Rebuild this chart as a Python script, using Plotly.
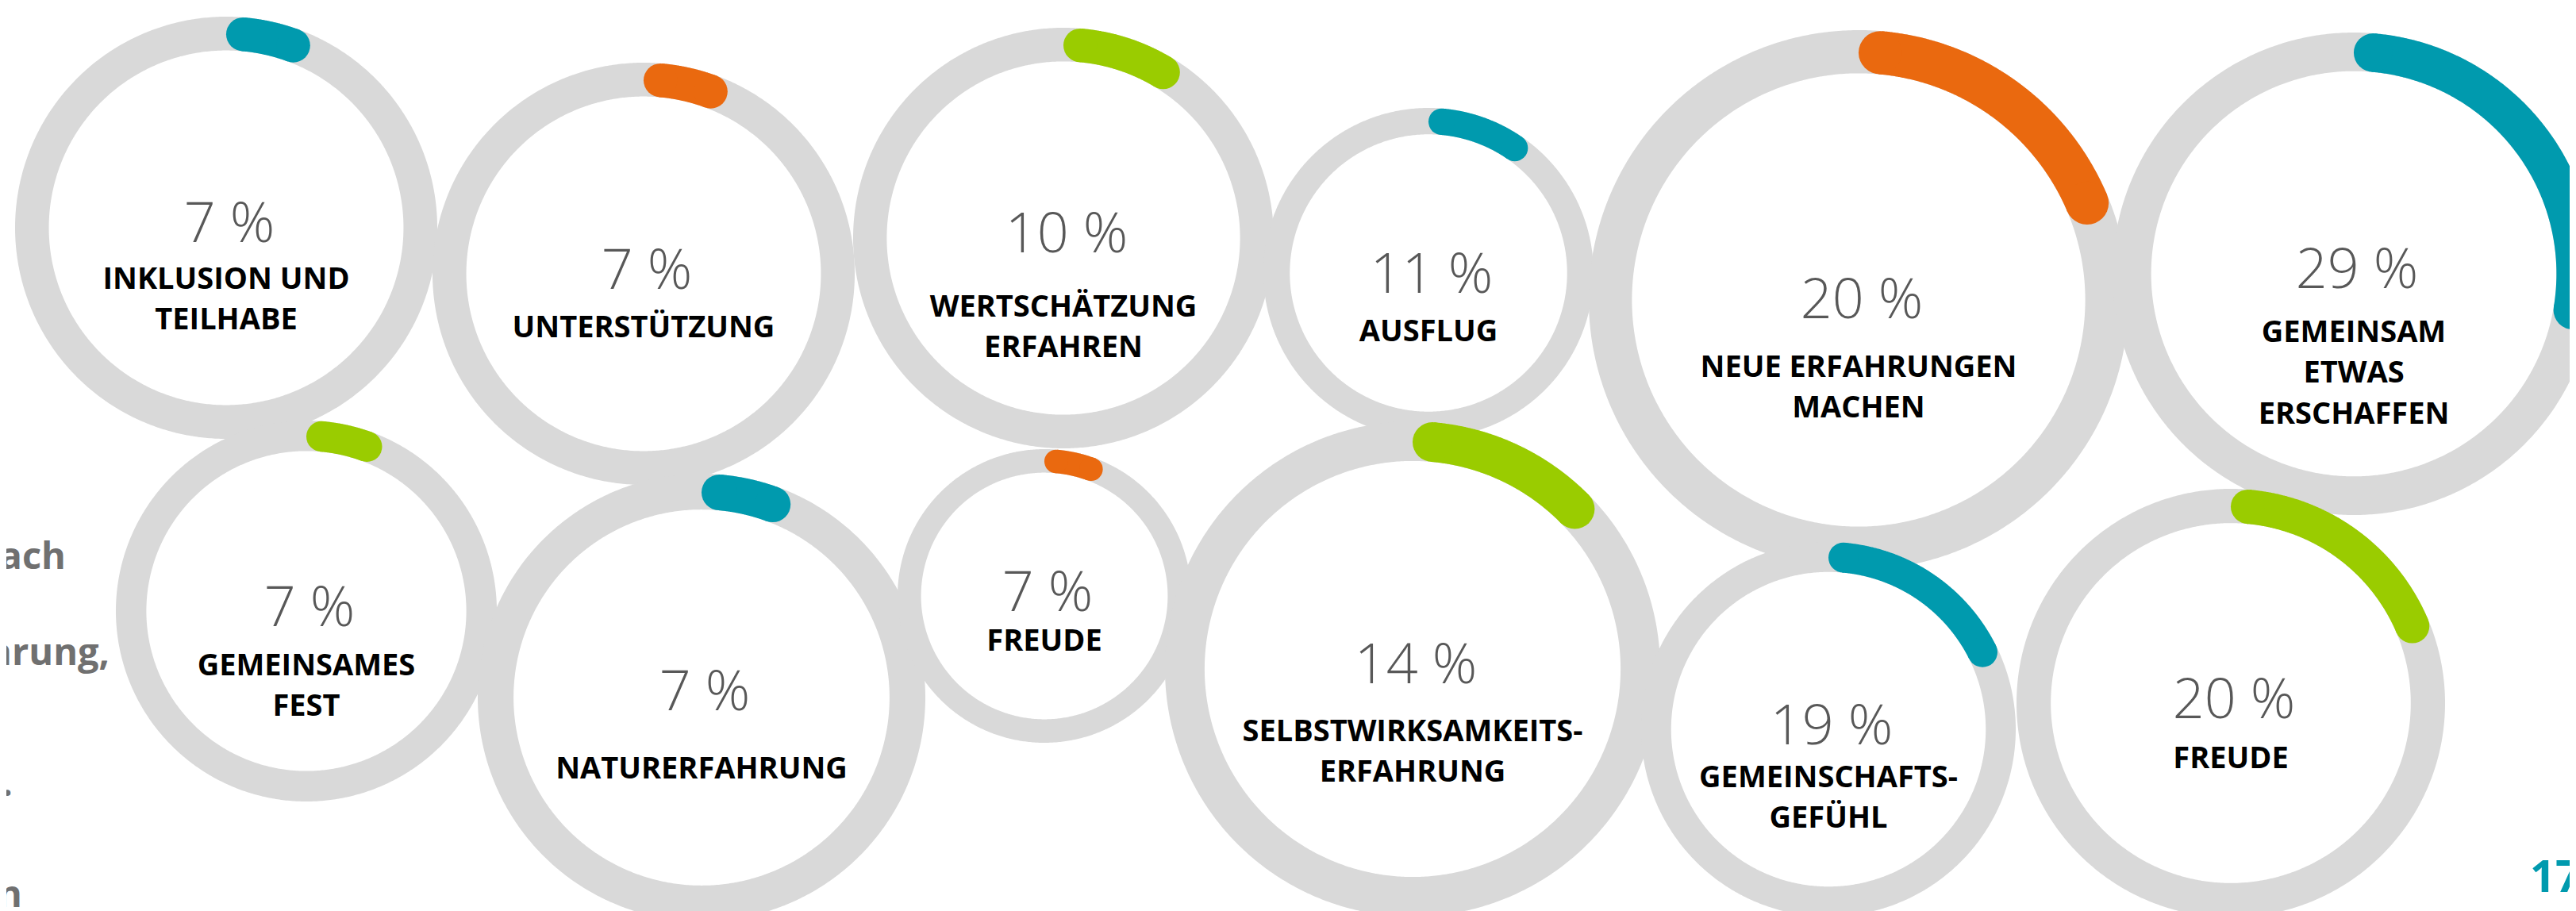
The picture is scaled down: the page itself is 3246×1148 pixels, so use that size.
import numpy as np
import plotly.graph_objects as go

# ---------------- data ----------------
categories = [
    ["INKLUSION UND", "TEILHABE"],
    ["UNTERSTÜTZUNG"],
    ["WERTSCHÄTZUNG", "ERFAHREN"],
    ["AUSFLUG"],
    ["NEUE ERFAHRUNGEN", "MACHEN"],
    ["GEMEINSAM", "ETWAS", "ERSCHAFFEN"],
    ["GEMEINSAMES", "FEST"],
    ["NATURERFAHRUNG"],
    ["FREUDE"],
    ["SELBSTWIRKSAMKEITS-", "ERFAHRUNG"],
    ["GEMEINSCHAFTS-", "GEFÜHL"],
    ["FREUDE"],
]
values = [7, 7, 10, 11, 20, 29, 7, 7, 7, 14, 19, 20]
side_texts = ["nach", "hrung,", ".", "n"]
page_number = "17"

# ---------------- layout / style (positions in px) ----------------
W, H = 3246, 1148
center_x = [277, 803, 1332, 1792, 2334, 2958, 378, 876, 1308, 1772, 2296, 2803]
center_y = [279, 337, 292, 336, 370, 337, 762, 871, 743, 835, 911, 878]
radius = [266, 266, 265, 208, 340, 304, 240, 282, 185, 312, 236, 270]
pct_cap_y = [280, 339, 293, 344, 376, 338, 764, 870, 745, 836, 913, 880]
label_cap_y = [350, 411, 385, 416, 461, 417, 837, 967, 806, 920, 978, 954]
TEAL, ORANGE, GREEN = "#009AAE", "#EA690F", "#9ACC00"
arc_colors = [TEAL, ORANGE, GREEN, TEAL, ORANGE, TEAL, GREEN, TEAL, ORANGE, GREEN, TEAL, GREEN]
RING_GRAY = "#D9D9D9"
THICK_RATIO = 0.16
PCT_FS, LABEL_FS, SIDE_FS, PAGE_FS = 70, 38, 47, 56
LINE_GAP = 51.5
TEXT_DY = -8
side_x = [75, 130, 8, 20]
side_baseline = [717, 838, 1003, 1143]

fig = go.Figure()

for i, v in enumerate(values):
    cx, cy, r = center_x[i], center_y[i], radius[i]
    t = THICK_RATIO * r
    rm = r - t / 2
    # background ring with white interior
    th = np.linspace(0, 2 * np.pi + 0.15, 720)
    fig.add_trace(go.Scatter(
        x=cx + rm * np.sin(th), y=cy - rm * np.cos(th), mode="lines",
        line=dict(color=RING_GRAY, width=t, simplify=False),
        fill="toself", fillcolor="white",
        hoverinfo="skip", showlegend=False))
    # value arc with rounded caps
    th0 = (t / 2) / rm
    th1 = v / 100 * 2 * np.pi - th0
    ta = np.linspace(th0, th1, 300)
    ax = cx + rm * np.sin(ta)
    ay = cy - rm * np.cos(ta)
    fig.add_trace(go.Scatter(
        x=ax, y=ay, mode="lines",
        line=dict(color=arc_colors[i], width=t, simplify=False),
        hoverinfo="skip", showlegend=False))
    fig.add_trace(go.Scatter(
        x=[ax[0], ax[-1]], y=[ay[0], ay[-1]], mode="markers",
        marker=dict(color=arc_colors[i], size=t, line=dict(width=0)),
        hoverinfo="skip", showlegend=False))

# texts
tx, ty, tt = [], [], []
for i, v in enumerate(values):
    tx.append(center_x[i] + 4)
    ty.append(pct_cap_y[i] + 0.357 * PCT_FS - 0.25 * PCT_FS + TEXT_DY)
    tt.append(f"{v} %")
fig.add_trace(go.Scatter(
    x=tx, y=ty, text=tt, mode="text", textposition="middle center",
    textfont=dict(family="Open Sans", size=PCT_FS, color="#585858", weight=300),
    hoverinfo="skip", showlegend=False, cliponaxis=False))

lx, ly, lt = [], [], []
for i, lines in enumerate(categories):
    for k, line in enumerate(lines):
        lx.append(center_x[i])
        ly.append(label_cap_y[i] + k * LINE_GAP + 0.357 * LABEL_FS - 0.25 * LABEL_FS + TEXT_DY)
        lt.append(line)
fig.add_trace(go.Scatter(
    x=lx, y=ly, text=lt, mode="text", textposition="middle center",
    textfont=dict(family="Open Sans", size=LABEL_FS, color="#000000", weight=700),
    hoverinfo="skip", showlegend=False, cliponaxis=False))

fig.add_trace(go.Scatter(
    x=side_x, y=[b - 0.25 * SIDE_FS + TEXT_DY for b in side_baseline], text=side_texts,
    mode="text", textposition="middle left",
    textfont=dict(family="Open Sans", size=SIDE_FS, color="#707070", weight=700),
    hoverinfo="skip", showlegend=False, cliponaxis=False))

fig.add_trace(go.Scatter(
    x=[3180], y=[1124 - 0.25 * PAGE_FS + TEXT_DY], text=[page_number],
    mode="text", textposition="middle right",
    textfont=dict(family="Open Sans", size=PAGE_FS, color=TEAL, weight=700),
    hoverinfo="skip", showlegend=False, cliponaxis=False))

fig.update_layout(
    width=W, height=H, margin=dict(l=0, r=0, t=0, b=0),
    paper_bgcolor="white", plot_bgcolor="white", showlegend=False,
    xaxis=dict(range=[0, W], visible=False, fixedrange=True),
    yaxis=dict(range=[H, 0], visible=False, fixedrange=True),
)

fig.write_html("out.html")
